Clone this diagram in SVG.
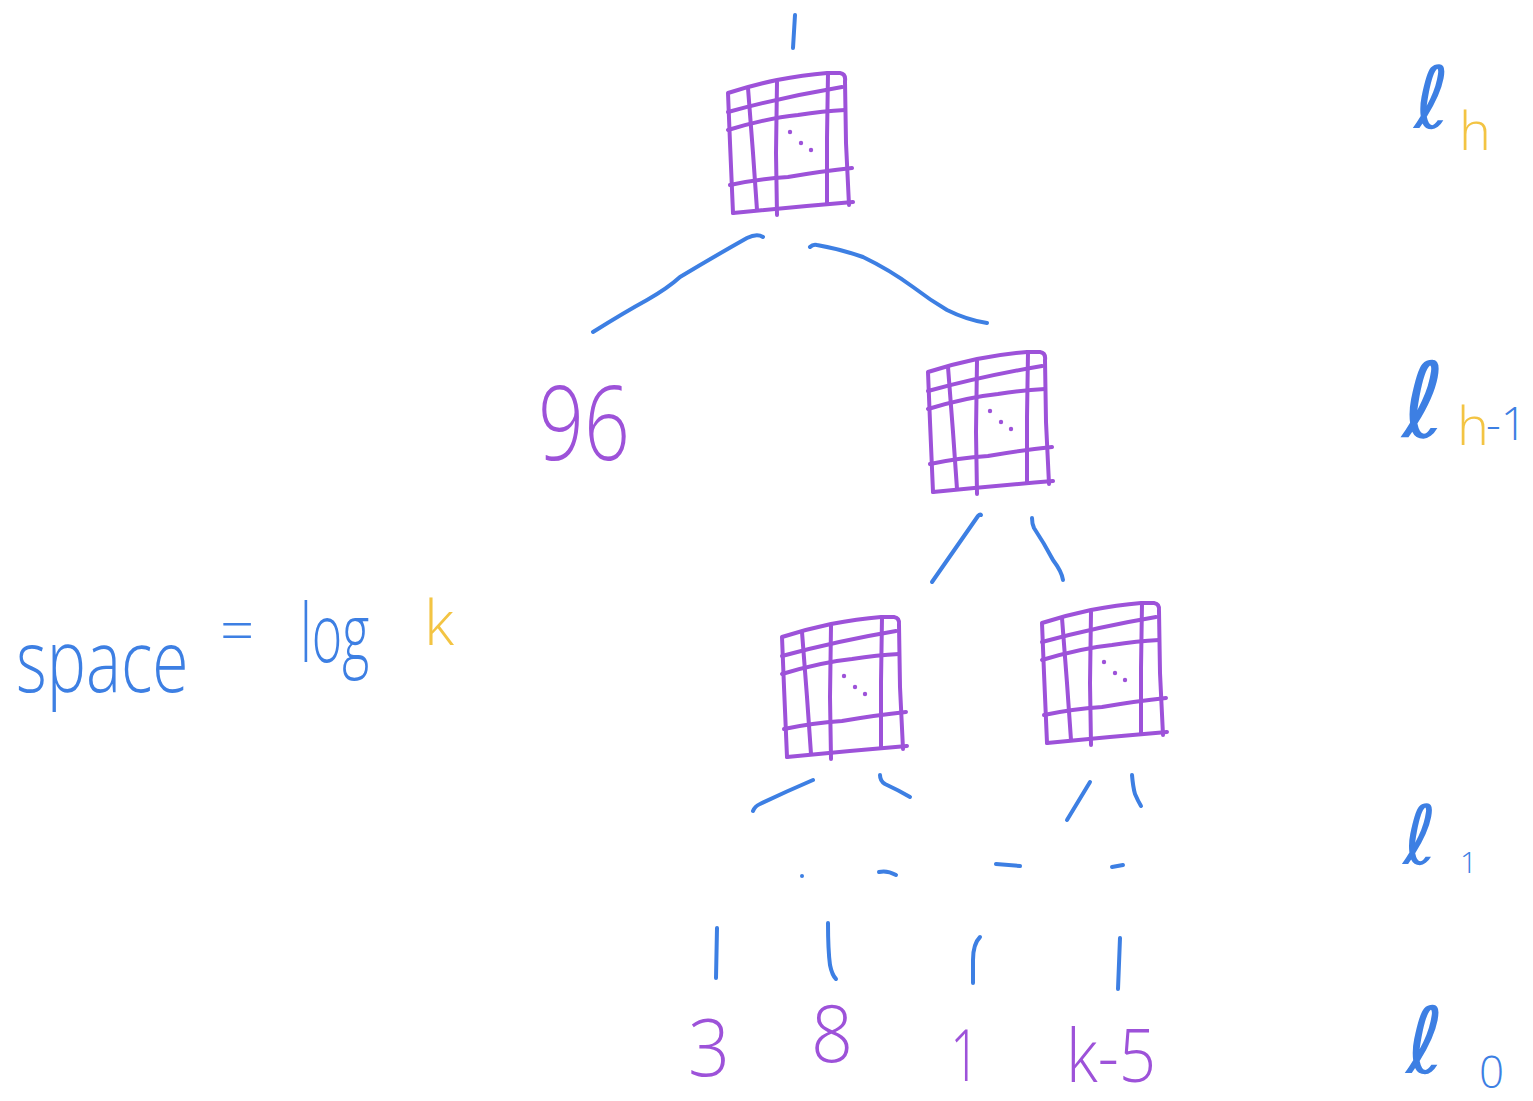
<svg xmlns="http://www.w3.org/2000/svg" width="1533" height="1101" viewBox="0 0 1533 1101">
  <style>
    .ink { fill: none; stroke-linecap: round; stroke-linejoin: round; }
    .grid { stroke: #9d52d9; stroke-width: 4; }
    .edge { stroke: #3d7fe3; stroke-width: 4; }
    .dot { fill: #9d52d9; }
    .num { fill: #9d52d9; font-family: "Open Sans", "Liberation Sans", sans-serif; font-weight: 300; }
    .blue { fill: #3d7fe3; font-family: "Open Sans", "Liberation Sans", sans-serif; font-weight: 300; }
    .gold { fill: #f3c443; font-family: "Open Sans", "Liberation Sans", sans-serif; font-weight: 300; }
    .ell { fill: #3d7fe3; font-family: "DejaVu Sans", sans-serif; font-weight: normal; }
  </style>
  <defs>
    <!-- sketched matrix: outer frame, 3 row rules, 3 column rules and a diagonal of dots -->
    <g id="grid">
      <path class="ink grid" d="M5,140 L2,70 L0,20 Q25,12 49,7 Q75,2 99,0 L112,0 Q118,1 117,8 L118,70 L121,132"/>
      <path class="ink grid" d="M5,140 Q65,134 125,129"/>
      <path class="ink grid" d="M0,39 Q55,24 114,14"/>
      <path class="ink grid" d="M0,57 Q40,45 70,42 Q95,38 117,37"/>
      <path class="ink grid" d="M2,112 Q30,106 60,104 Q95,98 124,95"/>
      <path class="ink grid" d="M20,15 L25,80 L29,137"/>
      <path class="ink grid" d="M49,9 L48,80 L49,142"/>
      <path class="ink grid" d="M100,0 L99,65 L99,130"/>
      <circle class="dot" cx="62" cy="59" r="2.2"/>
      <circle class="dot" cx="73" cy="70" r="2.2"/>
      <circle class="dot" cx="83" cy="77" r="2.2"/>
    </g>
  </defs>

  <rect width="1533" height="1101" fill="#ffffff"/>

  <!-- tree nodes -->
  <g id="node-root"><use href="#grid" transform="translate(728,73)"/></g>
  <g id="node-right"><use href="#grid" transform="translate(928,352)"/></g>
  <g id="node-left-child"><use href="#grid" transform="translate(782,617)"/></g>
  <g id="node-right-child"><use href="#grid" transform="translate(1042,603)"/></g>

  <g id="leaf-96"><text class="num" x="538" y="460" font-size="104" textLength="92" lengthAdjust="spacingAndGlyphs">96</text></g>
  <g id="leaf-3"><text class="num" x="688" y="1076" font-size="80" textLength="42" lengthAdjust="spacingAndGlyphs">3</text></g>
  <g id="leaf-8"><text class="num" x="811" y="1062" font-size="80" textLength="42" lengthAdjust="spacingAndGlyphs">8</text></g>
  <g id="leaf-1"><text class="num" x="950" y="1081" font-size="72" textLength="30" lengthAdjust="spacingAndGlyphs">1</text></g>
  <g id="leaf-k5"><text class="num" x="1066" y="1082" font-size="74" textLength="90" lengthAdjust="spacingAndGlyphs">k-5</text></g>

  <!-- connectors -->
  <g id="connectors">
    <path class="ink edge" d="M795,15 L793,48"/>
    <path class="ink edge" d="M593,332 Q625,312 647,300 Q668,288 680,277 Q715,256 747,238 Q757,233 763,237"/>
    <path class="ink edge" d="M810,247 Q813,244 817,245 Q840,249 863,257 Q890,270 913,287 Q930,300 947,310 Q967,320 987,323"/>
    <path class="ink edge" d="M932,582 L978,516 Q980,514 981,515"/>
    <path class="ink edge" d="M1032,518 Q1032,524 1034,528 Q1044,543 1053,560 Q1062,572 1063,580"/>
    <path class="ink edge" d="M753,811 Q755,806 760,804 Q785,792 813,780"/>
    <path class="ink edge" d="M880,775 Q880,781 885,784 Q898,790 910,797"/>
    <path class="ink edge" d="M1067,820 L1090,782"/>
    <path class="ink edge" d="M1132,775 Q1133,787 1135,794 Q1138,801 1141,806"/>
    <circle cx="802" cy="876" r="2" fill="#3d7fe3"/>
    <path class="ink edge" d="M879,872 Q887,870 896,875"/>
    <path class="ink edge" d="M996,864 L1020,866"/>
    <path class="ink edge" d="M1112,867 L1123,865"/>
    <path class="ink edge" d="M717,928 L716,978"/>
    <path class="ink edge" d="M828,923 Q828,950 830,965 Q832,975 836,979"/>
    <path class="ink edge" d="M980,937 Q973,944 973,960 L973,983"/>
    <path class="ink edge" d="M1120,938 L1118,989"/>
  </g>

  <!-- level labels -->
  <g id="level-h">
    <text class="ell" x="1414" y="128" font-size="86">ℓ</text>
    <text class="gold" x="1459" y="150" font-size="54">h</text>
  </g>
  <g id="level-h-1">
    <text class="ell" x="1402" y="437" font-size="104">ℓ</text>
    <text class="gold" x="1457" y="445" font-size="54">h</text>
    <text class="blue" x="1486" y="440" font-size="46">-1</text>
  </g>
  <g id="level-1">
    <text class="ell" x="1403" y="864" font-size="82">ℓ</text>
    <text class="blue" x="1460" y="873" font-size="30">1</text>
  </g>
  <g id="level-0">
    <text class="ell" x="1406" y="1073" font-size="92">ℓ</text>
    <text class="blue" x="1479" y="1088" font-size="44">0</text>
  </g>

  <!-- space formula -->
  <g id="formula">
    <text class="blue" font-size="66" transform="translate(16,692) scale(1,1.3)">space</text>
    <text class="blue" x="220" y="652" font-size="60">=</text>
    <text class="blue" font-size="52" transform="translate(300,662) scale(1,1.55)">log</text>
    <text class="gold" x="424" y="645" font-size="62">k</text>
  </g>
</svg>
